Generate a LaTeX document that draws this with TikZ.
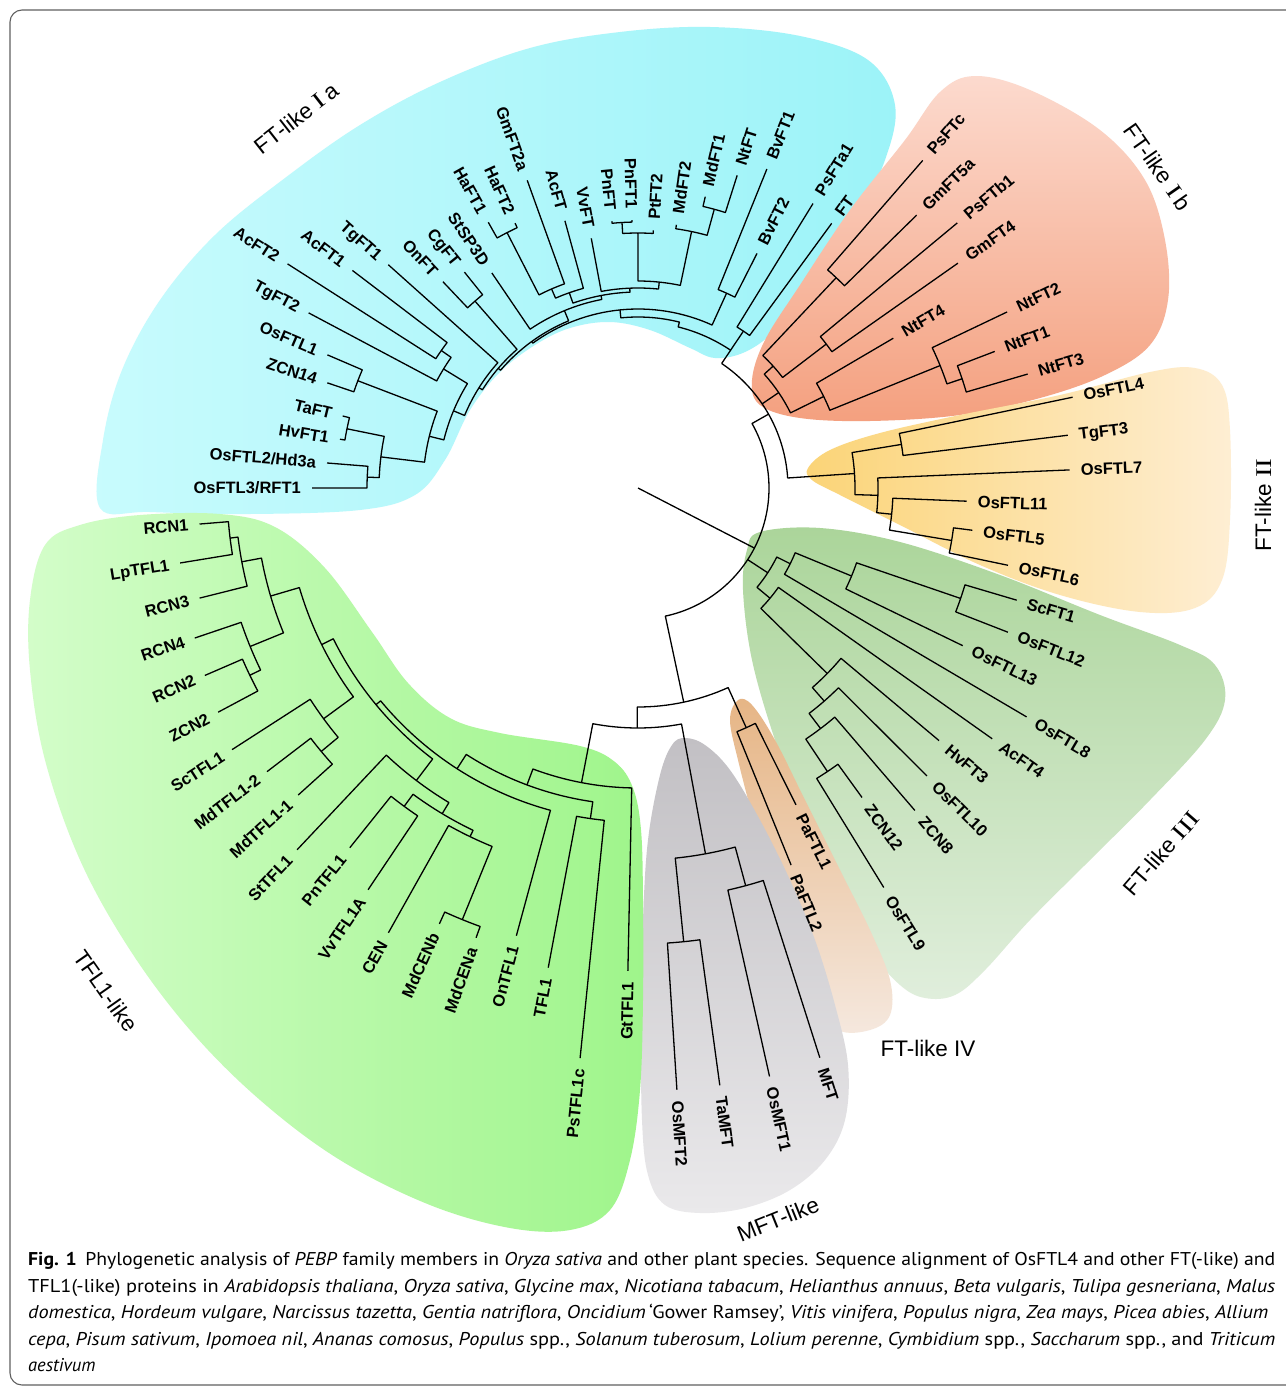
\documentclass[tikz,border=0pt]{standalone}
\usepackage{fontspec}
\usepackage{graphicx}
\setmainfont{Liberation Sans}
\newfontfamily\capfont{PT Sans}
\newfontfamily\rnfont{Liberation Serif}
\newcommand\RNone{{\rnfont\scalebox{1.3}[1]{I}}}
\newcommand\RNtwo{{\rnfont\scalebox{1.3}[1]{II}}}
\newcommand\RNthree{{\rnfont\scalebox{1.3}[1]{III}}}
\definecolor{cyA}{HTML}{C8FBFD}
\definecolor{cyB}{HTML}{9CF3F8}
\definecolor{saA}{HTML}{F4A07F}
\definecolor{saB}{HTML}{FCDACE}
\definecolor{orA}{HTML}{FBD477}
\definecolor{orB}{HTML}{FEEED3}
\definecolor{grA}{HTML}{ABD59A}
\definecolor{grB}{HTML}{E0EEDC}
\definecolor{tnA}{HTML}{E6B585}
\definecolor{tnB}{HTML}{F5E8DE}
\definecolor{gyA}{HTML}{C2C0C4}
\definecolor{gyB}{HTML}{EAE9EB}
\definecolor{lgA}{HTML}{9FF58B}
\definecolor{lgB}{HTML}{D3FDC9}
\definecolor{framecol}{HTML}{606060}
\tikzset{
  br/.style={line width=1.3pt, line join=round},
  leaf/.style={inner sep=0pt, font=\bfseries\fontsize{16.5}{16.5}\selectfont, text height=11.8pt, text depth=0pt},
  grp/.style={inner sep=0pt, font=\fontsize{22.5}{24}\selectfont},
  capline/.style={anchor=base west, inner sep=0pt, font=\capfont\fontsize{18.5}{22}\selectfont}
}
% leaf: name, angle, tip radius, label
\newcommand\Lf[4]{%
  \expandafter\xdef\csname TA#1\endcsname{#2}%
  \coordinate (c#1) at (#2:#3);
  \pgfmathsetmacro\tmpr{#3+11}%
  \pgfmathtruncatemacro\tmpside{cos(#2)>=0 ? 1 : 0}%
  \ifnum\tmpside=1
    \node[leaf,rotate=#2,anchor=west] (#1) at (#2:\tmpr) {#4};
  \else
    \pgfmathsetmacro\tmprot{#2+180}%
    \node[leaf,rotate=\tmprot,anchor=east] (#1) at (#2:\tmpr) {#4};
  \fi
}
% internal node: name, child1, child2, radius
\newcommand\Nd[4]{%
  \pgfmathsetmacro\tA{\csname TA#2\endcsname}%
  \pgfmathsetmacro\tB{\csname TA#3\endcsname}%
  \pgfmathsetmacro\tM{(\tA+\tB)/2}%
  \draw[br] (c#2) -- (\tA:#4) arc[start angle=\tA, end angle=\tB, radius=#4pt] -- (c#3);
  \expandafter\xdef\csname TA#1\endcsname{\tM}%
  \coordinate (c#1) at (\tM:#4);
}
\begin{document}
\begin{tikzpicture}[x=1pt,y=-1pt]
\useasboundingbox (0,0) rectangle (1285,1389);
\fill[white] (0,0) rectangle (1285,1389);

% ---------- coloured clade backgrounds ----------
\shade[left color=cyA, right color=cyB] plot[smooth cycle, tension=0.6] coordinates {
 (100,508) (103,440) (122,370) (160,300) (215,235) (285,178) (360,125) (440,82) (530,48) (620,32) (710,27) (800,36) (868,60) (895,105) (885,160) (855,220) (815,280) (775,330) (745,352) (715,358) (690,348) (650,330) (610,322) (570,328) (535,345) (500,372) (470,410) (445,460) (415,495) (360,510) (250,514) (150,512)};
\shade[top color=saB, bottom color=saA] plot[smooth cycle, tension=0.6] coordinates {
 (905,140) (940,92) (975,76) (1030,90) (1100,130) (1145,180) (1165,240) (1168,300) (1150,345) (1105,375) (1040,398) (960,415) (870,421) (800,418) (760,405) (752,380) (765,340) (800,285) (850,210)};
\shade[left color=orA, right color=orB] plot[smooth cycle, tension=0.6] coordinates {
 (808,468) (830,450) (880,433) (960,415) (1060,395) (1150,372) (1195,368) (1222,385) (1230,430) (1230,520) (1222,580) (1195,608) (1140,612) (1060,595) (980,565) (900,525) (840,495) (812,480)};
\shade[top color=grA, bottom color=grB] plot[smooth cycle, tension=0.6] coordinates {
 (760,532) (820,528) (900,542) (1000,575) (1100,615) (1180,645) (1215,665) (1225,700) (1205,740) (1150,800) (1090,860) (1030,920) (985,970) (955,995) (925,998) (900,985) (870,950) (840,895) (805,820) (775,740) (752,660) (743,590) (747,550)};
\shade[top color=tnA, bottom color=tnB] plot[smooth cycle, tension=0.6] coordinates {
 (738,700) (752,705) (775,740) (805,800) (840,870) (870,930) (890,980) (890,1015) (870,1030) (838,1030) (815,1000) (795,950) (775,890) (755,825) (738,760) (730,720)};
\shade[top color=gyA, bottom color=gyB] plot[smooth cycle, tension=0.6] coordinates {
 (685,738) (705,745) (730,770) (760,820) (790,880) (815,940) (835,1005) (848,1065) (845,1120) (825,1160) (790,1190) (745,1208) (700,1213) (665,1205) (648,1175) (642,1120) (641,1020) (643,920) (648,840) (660,775) (672,745)};
\shade[left color=lgB, right color=lgA] plot[smooth cycle, tension=0.6] coordinates {
 (45,545) (80,525) (140,515) (220,514) (275,527) (325,568) (372,632) (408,683) (450,718) (500,733) (580,746) (615,762) (633,788) (641,830) (643,900) (643,1000) (640,1090) (630,1160) (610,1210) (570,1230) (510,1228) (430,1205) (340,1160) (260,1100) (190,1030) (130,950) (80,860) (45,760) (30,670) (30,600)};

% ---------- tree ----------
\begin{scope}[shift={(638pt,-488pt)}, x=1pt, y=1pt]
% FT-like Ia leaves
\Lf{HaFTone}{119.4}{305}{HaFT1}
\Lf{HaFTtwo}{114.9}{292}{HaFT2}
\Lf{GmFTtwoa}{109.8}{327}{GmFT2a}
\Lf{AcFT}{105.3}{277}{AcFT}
\Lf{VvFT}{100.6}{254}{VvFT}
\Lf{PnFT}{95.6}{268}{PnFT}
\Lf{PnFTone}{91.3}{268}{PnFT1}
\Lf{PtFTtwo}{86.6}{258}{PtFT2}
\Lf{MdFTtwo}{81.7}{266}{MdFT2}
\Lf{MdFTone}{77.0}{299}{MdFT1}
\Lf{NtFT}{72.4}{328}{NtFT}
\Lf{BvFTone}{68.0}{344}{BvFT1}
\Lf{BvFTtwo}{63.1}{263}{BvFT2}
\Lf{PsFTaone}{58.4}{334}{PsFTa1}
\Lf{FT}{53.8}{328}{FT}
\Lf{StSP}{124.2}{260}{StSP3D}
\Lf{CgFT}{128.8}{277}{CgFT}
\Lf{OnFT}{133.4}{284}{OnFT}
\Lf{TgFTone}{138.2}{335}{TgFT1}
\Lf{AcFTone}{142.7}{359}{AcFT1}
\Lf{AcFTtwo}{147.4}{416}{AcFT2}
\Lf{TgFTtwo}{152.0}{373}{TgFT2}
\Lf{OsFTLone}{156.8}{338}{OsFTL1}
\Lf{ZCNfourteen}{161.3}{328}{ZCN14}
\Lf{TaFT}{166.3}{304}{TaFT}
\Lf{HvFTone}{170.7}{302}{HvFT1}
\Lf{Hdthreea}{175.4}{312}{OsFTL2/Hd3a}
\Lf{RFTone}{180.0}{326}{OsFTL3/RFT1}
% FT-like Ib leaves
\Lf{PsFTc}{49.0}{434}{PsFTc}
\Lf{GmFTfivea}{44.4}{390}{GmFT5a}
\Lf{PsFTbone}{39.7}{415}{PsFTb1}
\Lf{GmFTfour}{35.1}{391}{GmFT4}
\Lf{NtFTfour}{30.4}{296}{NtFT4}
\Lf{NtFTtwo}{25.5}{409}{NtFT2}
\Lf{NtFTone}{20.95}{382}{NtFT1}
\Lf{NtFTthree}{16.3}{406}{NtFT3}
% FT-like II leaves
\Lf{OsFTLfour}{11.8}{444}{OsFTL4}
\Lf{TgFTthree}{7.0}{433}{TgFT3}
\Lf{OsFTLseven}{2.4}{432}{OsFTL7}
\Lf{OsFTLeleven}{-2.3}{329}{OsFTL11}
\Lf{OsFTLfive}{-7.2}{337}{OsFTL5}
\Lf{OsFTLsix}{-11.8}{378}{OsFTL6}
% FT-like III leaves
\Lf{ScFTone}{-16.5}{395}{ScFT1}
\Lf{OsFTLtwelve}{-21.3}{397}{OsFTL12}
\Lf{OsFTLthirteen}{-25.9}{361}{OsFTL13}
\Lf{OsFTLeight}{-30.5}{451}{OsFTL8}
\Lf{AcFTfour}{-35.3}{434}{AcFT4}
\Lf{HvFTthree}{-40.0}{393}{HvFT3}
\Lf{OsFTLten}{-44.9}{408}{OsFTL10}
\Lf{ZCNeight}{-49.35}{425}{ZCN8}
\Lf{ZCNtwelve}{-54.1}{382}{ZCN12}
\Lf{OsFTLnine}{-58.4}{469}{OsFTL9}
% FT-like IV leaves
\Lf{PaFTLone}{-63.5}{354}{PaFTL1}
\Lf{PaFTLtwo}{-67.9}{407}{PaFTL2}
% MFT-like leaves
\Lf{OsMFTtwo}{-86.3}{603}{OsMFT2}
\Lf{TaMFT}{-82.2}{603}{TaMFT}
\Lf{OsMFTone}{-77.4}{603}{OsMFT1}
\Lf{MFT}{-72.3}{598}{MFT}
% TFL1-like leaves
\Lf{RCNone}{-175.3}{440}{RCN1}
\Lf{LpTFLone}{-170.7}{464}{LpTFL1}
\Lf{RCNthree}{-165.9}{452}{RCN3}
\Lf{RCNfour}{-161.3}{468}{RCN4}
\Lf{RCNtwo}{-156.6}{472}{RCN2}
\Lf{ZCNtwo}{-151.9}{476}{ZCN2}
\Lf{ScTFLone}{-147.2}{483}{ScTFL1}
\Lf{MdTFLonetwo}{-142.6}{467}{MdTFL1-2}
\Lf{MdTFLoneone}{-137.9}{458}{MdTFL1-1}
\Lf{StTFLone}{-133.3}{497}{StTFL1}
\Lf{PnTFLone}{-128.7}{461}{PnTFL1}
\Lf{VvTFLoneA}{-123.9}{484}{VvTFL1A}
\Lf{CEN}{-119.3}{510}{CEN}
\Lf{MdCENb}{-114.5}{479}{MdCENb}
\Lf{MdCENa}{-109.8}{478}{MdCENa}
\Lf{OnTFLone}{-105.2}{464}{OnTFL1}
\Lf{TFLone}{-100.6}{488}{TFL1}
\Lf{PsTFLonec}{-95.8}{573}{PsTFL1c}
\Lf{GtTFLone}{-91.2}{483}{GtTFL1}

% FT-like Ia internal nodes
\Nd{HaFT}{HaFTtwo}{HaFTone}{287}
\Nd{NAseven}{GmFTtwoa}{HaFT}{217}
\Nd{NAeight}{AcFT}{NAseven}{207}
\Nd{NAthree}{PnFTone}{PnFT}{266}
\Nd{NAfour}{PtFTtwo}{NAthree}{255}
\Nd{NAone}{NtFT}{MdFTone}{289}
\Nd{NAtwo}{NAone}{MdFTtwo}{262}
\Nd{NAfive}{NAtwo}{NAfour}{207}
\Nd{NAsix}{NAfive}{VvFT}{200}
\Nd{NAnine}{NAsix}{NAeight}{196}
\Nd{NAnineb}{NAnine}{StSP}{192}
\Nd{CgOn}{CgFT}{OnFT}{248}
\Nd{NAA}{AcFTone}{AcFTtwo}{240}
\Nd{NAB}{NAA}{TgFTtwo}{228}
\Nd{NAC}{OsFTLone}{ZCNfourteen}{300}
\Nd{NAD}{TaFT}{HvFTone}{297}
\Nd{NAE}{Hdthreea}{RFTone}{271}
\Nd{NAF}{NAD}{NAE}{259}
\Nd{NAG}{NAC}{NAF}{215}
\Nd{NAH}{NAB}{NAG}{200}
\Nd{NAI}{TgFTone}{NAH}{188}
\Nd{NAJ}{CgOn}{NAI}{184}
\Nd{NAM}{NAnineb}{NAJ}{181}
\Nd{NAten}{BvFTtwo}{BvFTone}{214}
\Nd{NAeleven}{NAten}{NAM}{179}
\Nd{NAtwelve}{FT}{PsFTaone}{189}
% FT-like Ib internal nodes
\Nd{NBone}{PsFTc}{GmFTfivea}{289}
\Nd{NBtwo}{PsFTbone}{GmFTfour}{237}
\Nd{NBthree}{NBone}{NBtwo}{182}
\Nd{NBfour}{NtFTone}{NtFTthree}{342}
\Nd{NBfive}{NtFTtwo}{NBfour}{326}
\Nd{NBsix}{NtFTfour}{NBfive}{207}
\Nd{NBseven}{NBthree}{NBsix}{170}
% FT-like II internal nodes
\Nd{NCfour}{OsFTLfour}{TgFTthree}{267}
\Nd{NCfive}{OsFTLfive}{OsFTLsix}{318}
\Nd{NCsix}{OsFTLeleven}{NCfive}{255}
\Nd{NCseven}{OsFTLseven}{NCsix}{240}
\Nd{NCeight}{NCfour}{NCseven}{217}
% FT-like III internal nodes
\Nd{NDone}{ScFTone}{OsFTLtwelve}{341}
\Nd{NDtwo}{NDone}{OsFTLthirteen}{231}
\Nd{NDthree}{NDtwo}{OsFTLeight}{170}
\Nd{NDfour}{ZCNtwelve}{OsFTLnine}{341}
\Nd{NDfive}{ZCNeight}{NDfour}{302}
\Nd{NDsix}{OsFTLten}{NDfive}{283}
\Nd{NDseven}{HvFTthree}{NDsix}{265}
\Nd{NDeight}{AcFTfour}{NDseven}{172}
\Nd{NDnine}{NDthree}{NDeight}{155}
% FT-like IV and MFT-like
\Nd{NE}{PaFTLone}{PaFTLtwo}{263}
\Nd{NMone}{OsMFTtwo}{TaMFT}{456}
\Nd{NMtwo}{OsMFTone}{MFT}{412}
\Nd{NMG}{NMone}{NMtwo}{372}
% TFL1-like internal nodes
\Nd{NTone}{RCNone}{LpTFLone}{411}
\Nd{NTtwo}{NTone}{RCNthree}{403}
\Nd{NTthree}{RCNtwo}{ZCNtwo}{431}
\Nd{NTfour}{RCNfour}{NTthree}{419}
\Nd{NTfive}{NTtwo}{NTfour}{383}
\Nd{NTsix}{MdTFLonetwo}{MdTFLoneone}{412}
\Nd{NTseven}{ScTFLone}{NTsix}{390}
\Nd{NTeight}{NTfive}{NTseven}{353}
\Nd{NTnine}{PnTFLone}{VvTFLoneA}{395}
\Nd{NTten}{MdCENb}{MdCENa}{466}
\Nd{NTeleven}{CEN}{NTten}{387}
\Nd{NTtwelve}{NTnine}{NTeleven}{380}
\Nd{NTthirteen}{StTFLone}{NTtwelve}{367}
\Nd{NTfourteen}{NTeight}{NTthirteen}{340}
\Nd{NTfifteen}{NTfourteen}{OnTFLone}{334}
\Nd{NTsixteen}{TFLone}{PsTFLonec}{334}
\Nd{NTseventeen}{NTfifteen}{NTsixteen}{317}
\Nd{NTeighteen}{NTseventeen}{GtTFLone}{300}
\Nd{NV}{NTeighteen}{NMG}{240}
\Nd{NW}{NV}{NE}{219}

% FT-like I a root and the upper backbone
\pgfmathsetmacro\aP{\csname TANAeleven\endcsname}
\pgfmathsetmacro\aQ{\csname TANAtwelve\endcsname}
\pgfmathsetmacro\aB{\csname TANBseven\endcsname}
\pgfmathsetmacro\aC{\csname TANCeight\endcsname}
\pgfmathsetmacro\aD{\csname TANDnine\endcsname}
\pgfmathsetmacro\aW{\csname TANW\endcsname}
\draw[br] (cNAeleven) -- (\aP:171) arc[start angle=\aP, end angle=76, radius=171pt] -- (76:166) arc[start angle=76, end angle=\aQ, radius=166pt];
\draw[br] (cNAtwelve) -- (\aQ:150);
\coordinate (cX) at (29.5:150);
\draw[br] (\aQ:150) arc[start angle=\aQ, end angle=\aC, radius=150pt] -- (cNCeight);
\draw[br] (cNBseven) -- (\aB:150);
\coordinate (cR) at (29.5:131);
\draw[br] (cX) -- (cR) arc[start angle=29.5, end angle=\aW, radius=131pt] -- (cNW);
\draw[br] (cNDnine) -- (\aD:131);
\coordinate (root) at (0,0);
\draw[br] (root) -- (-27.3:131);
\end{scope}

% ---------- clade labels ----------
\node[grp, rotate=38] (gIa) at (296,118) {FT-like \RNone\,a};
\node[grp, rotate=-55] (gIb) at (1158,167) {FT-like \RNone\,b};
\node[grp, rotate=90] (gII) at (1263,505) {FT-like \RNtwo};
\node[grp, rotate=49] (gIII) at (1161,853) {FT-like \RNthree};
\node[grp] (gIV) at (928,1048) {FT-like IV};
\node[grp, rotate=22] (gMFT) at (778,1219) {MFT-like};
\node[grp, rotate=-55] (gTFL) at (106,991) {TFL1-like};

% ---------- frame ----------
\draw[framecol, line width=1.1pt, rounded corners=12pt] (10,10) rectangle (1320,1385);

% ---------- caption ----------
\node[capline] (capA) at (28,1265) {\resizebox{1247pt}{\height}{\textbf{Fig. 1}\hspace{8pt}Phylogenetic analysis of \textit{PEBP} family members in \textit{Oryza sativa} and other plant species. Sequence alignment of OsFTL4 and other FT(-like) and}};
\node[capline] (capB) at (28,1292) {\resizebox{1247pt}{\height}{TFL1(-like) proteins in \textit{Arabidopsis thaliana}, \textit{Oryza sativa}, \textit{Glycine max}, \textit{Nicotiana tabacum}, \textit{Helianthus annuus}, \textit{Beta vulgaris}, \textit{Tulipa gesneriana}, \textit{Malus}}};
\node[capline] (capC) at (28,1318) {\resizebox{1240pt}{\height}{\textit{domestica}, \textit{Hordeum vulgare}, \textit{Narcissus tazetta}, \textit{Gentia natriflora}, \textit{Oncidium}\,‘Gower Ramsey’, \textit{Vitis vinifera}, \textit{Populus nigra}, \textit{Zea mays}, \textit{Picea abies}, \textit{Allium}}};
\node[capline] (capD) at (28,1345) {\resizebox{1247pt}{\height}{\textit{cepa}, \textit{Pisum sativum}, \textit{Ipomoea nil}, \textit{Ananas comosus}, \textit{Populus} spp., \textit{Solanum tuberosum}, \textit{Lolium perenne}, \textit{Cymbidium} spp., \textit{Saccharum} spp., and \textit{Triticum}}};
\node[capline] (capE) at (28,1371) {\textit{aestivum}};
\end{tikzpicture}
\end{document}
